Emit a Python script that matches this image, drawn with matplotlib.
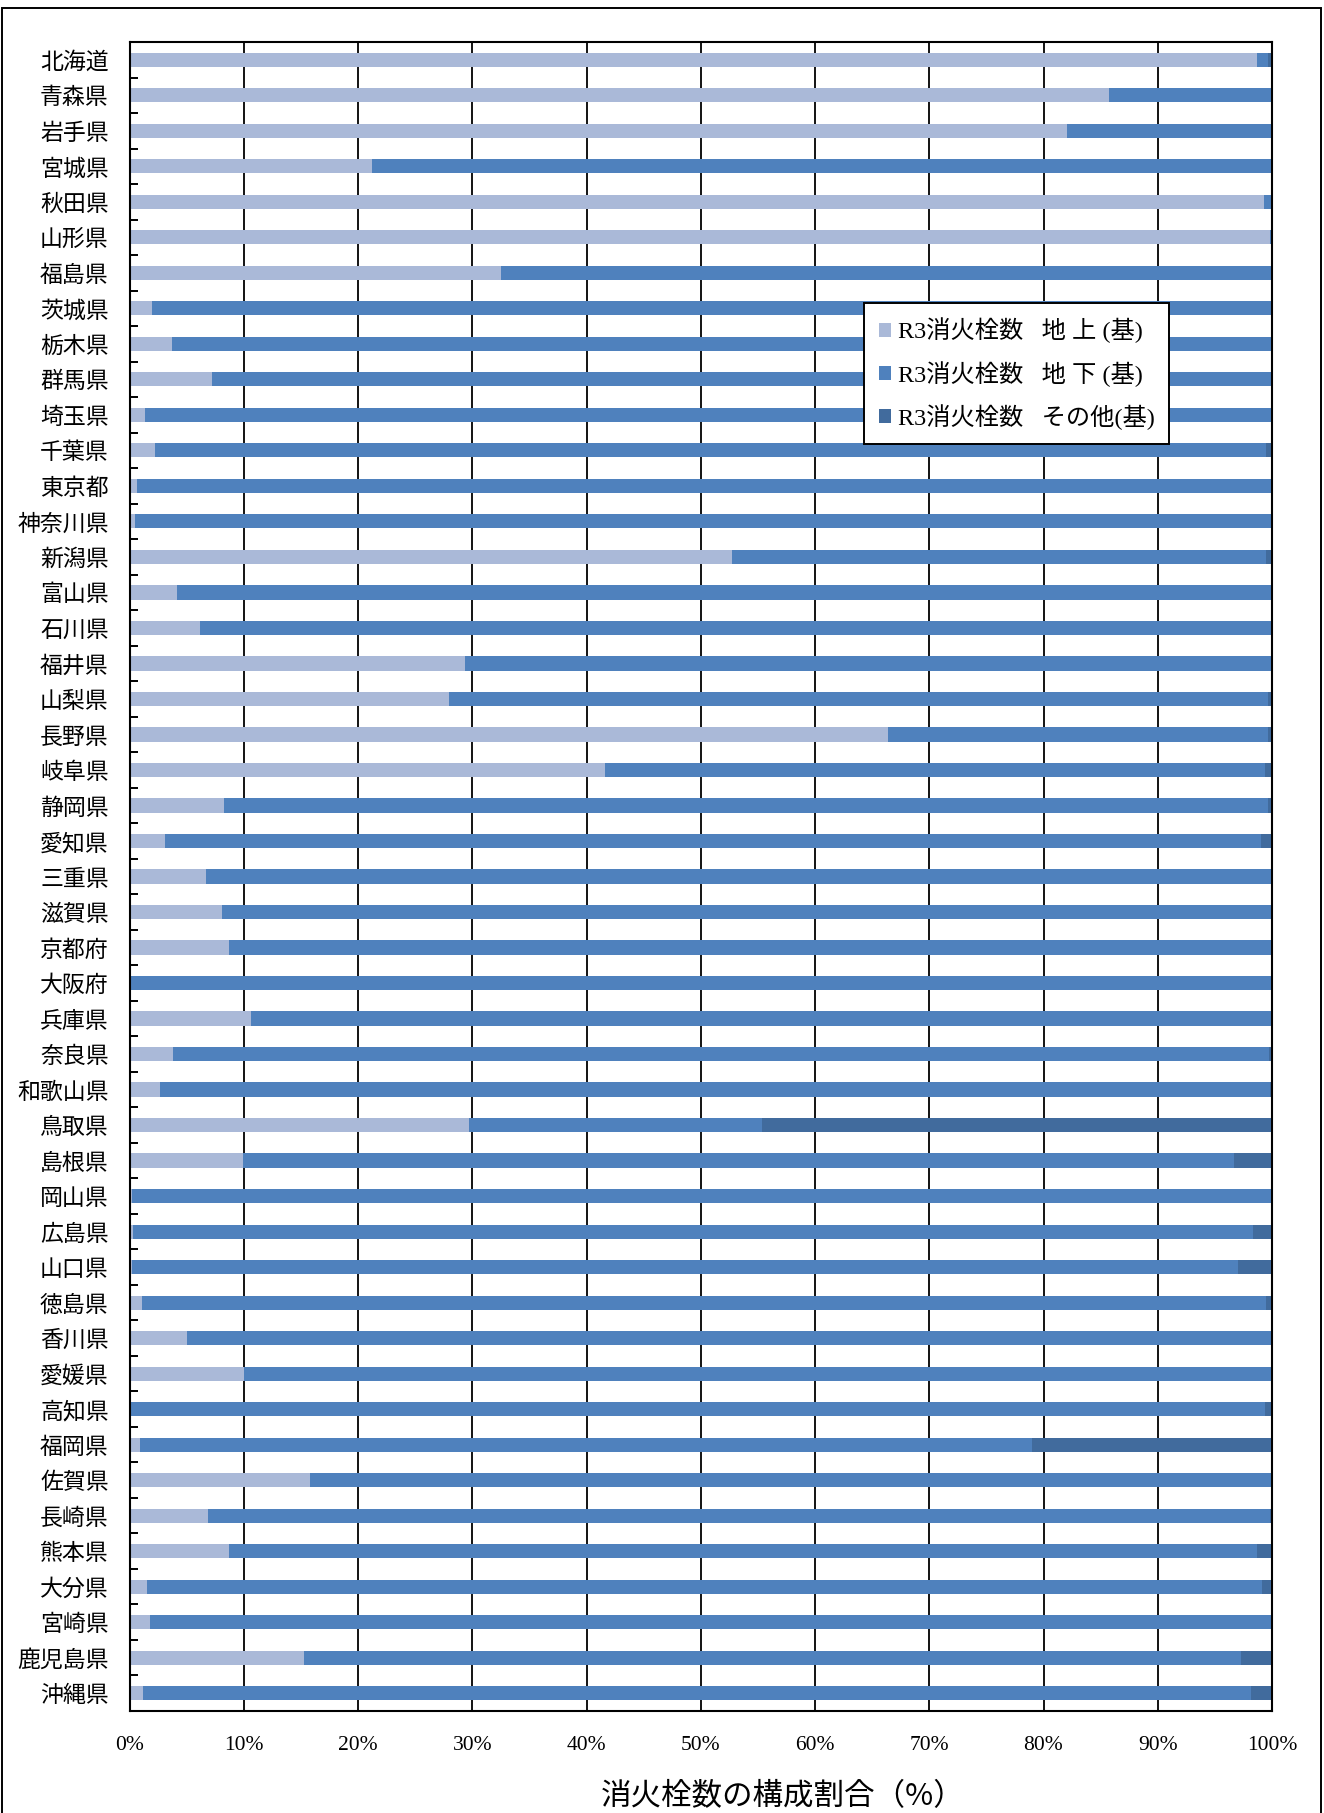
import matplotlib
matplotlib.use("Agg")
import matplotlib.pyplot as plt
from matplotlib.patches import Rectangle
from matplotlib.ticker import FixedLocator, NullFormatter
import numpy as np

plt.rcParams['font.family'] = ['Noto Sans CJK JP', 'DejaVu Sans']

# Prefectures, top to bottom
prefectures = [
    "北海道", "青森県", "岩手県", "宮城県", "秋田県", "山形県", "福島県",
    "茨城県", "栃木県", "群馬県", "埼玉県", "千葉県", "東京都", "神奈川県",
    "新潟県", "富山県", "石川県", "福井県", "山梨県", "長野県", "岐阜県",
    "静岡県", "愛知県", "三重県", "滋賀県", "京都府", "大阪府", "兵庫県",
    "奈良県", "和歌山県", "鳥取県", "島根県", "岡山県", "広島県", "山口県",
    "徳島県", "香川県", "愛媛県", "高知県", "福岡県", "佐賀県", "長崎県",
    "熊本県", "大分県", "宮崎県", "鹿児島県", "沖縄県",
]

# Share of hydrants (%) by type
above_ground = [
    98.7, 85.75, 82.1, 21.2, 99.3, 99.8, 32.5,
    2.0, 3.7, 7.2, 1.35, 2.2, 0.7, 0.5,
    52.7, 4.2, 6.2, 29.4, 28.0, 66.4, 41.6,
    8.3, 3.1, 6.7, 8.1, 8.7, 0.0, 10.6,
    3.8, 2.7, 29.7, 9.9, 0.25, 0.3, 0.25,
    1.1, 5.0, 10.0, 0.0, 0.9, 15.8, 6.9,
    8.7, 1.55, 1.8, 15.3, 1.2,
]
underground = [
    0.95, 14.25, 17.9, 78.8, 0.7, 0.2, 67.4,
    98.0, 96.3, 92.8, 98.65, 97.3, 99.3, 99.5,
    46.8, 95.8, 93.8, 70.6, 71.65, 33.25, 57.8,
    91.35, 95.9, 93.3, 91.8, 91.3, 100.0, 89.35,
    95.9, 97.15, 25.7, 86.8, 99.75, 98.0, 96.75,
    98.4, 95.0, 90.0, 99.4, 78.05, 84.2, 92.9,
    90.0, 97.55, 98.2, 81.95, 96.95,
]
other = [
    0.35, 0.0, 0.0, 0.0, 0.0, 0.0, 0.1,
    0.0, 0.0, 0.0, 0.0, 0.5, 0.0, 0.0,
    0.5, 0.0, 0.0, 0.0, 0.35, 0.35, 0.6,
    0.35, 1.0, 0.0, 0.1, 0.0, 0.0, 0.05,
    0.3, 0.15, 44.6, 3.3, 0.0, 1.7, 3.0,
    0.5, 0.0, 0.0, 0.6, 21.05, 0.0, 0.2,
    1.3, 0.9, 0.0, 2.75, 1.85,
]

series_labels = ["R3消火栓数   地 上 (基)", "R3消火栓数   地 下 (基)", "R3消火栓数   その他(基)"]
series_colors = ["#AAB9D8", "#4F81BD", "#416B9D"]
x_ticks = [0, 10, 20, 30, 40, 50, 60, 70, 80, 90, 100]
x_tick_labels = ["0%", "10%", "20%", "30%", "40%", "50%", "60%", "70%", "80%", "90%", "100%"]
x_title = "消火栓数の構成割合（%）"

W, H = 1324, 1813
fig = plt.figure(figsize=(W / 100, H / 100), dpi=100)
ax = fig.add_axes([129.5 / W, 1 - 1711 / H, (1272 - 129.5) / W, (1711 - 42) / H])

y = np.arange(len(prefectures))
left = np.zeros(len(prefectures))
for vals, lab, col in zip([above_ground, underground, other], series_labels, series_colors):
    v = np.array(vals)
    ax.barh(y, v, left=left, height=0.4, color=col, label=lab, linewidth=0, zorder=3)
    left = left + v

ax.set_xlim(0, 100)
ax.set_ylim(len(prefectures) - 0.5, -0.5)

# vertical gridlines
ax.xaxis.set_major_locator(FixedLocator(x_ticks))
ax.set_xticklabels(x_tick_labels, family=['Liberation Serif', 'Noto Sans CJK JP'], fontsize=15.5)
ax.grid(axis='x', color='black', linewidth=1.3, zorder=1)
ax.tick_params(axis='x', length=0, pad=18)

# category labels with small inward boundary ticks
ax.set_yticks(y)
ax.set_yticklabels(prefectures, fontsize=16.5)
ax.tick_params(axis='y', which='major', length=0, pad=15)
ax.yaxis.set_minor_locator(FixedLocator(np.arange(0.5, len(prefectures) - 1, 1.0)))
ax.yaxis.set_minor_formatter(NullFormatter())
ax.tick_params(axis='y', which='minor', direction='in', length=5.5, width=1.4, color='black')

for s in ax.spines.values():
    s.set_linewidth(1.5)
    s.set_color('black')
    s.set_zorder(4)

leg = ax.legend(
    loc='upper left', bbox_to_anchor=(864 / W, 1 - 303 / H), bbox_transform=fig.transFigure,
    borderaxespad=0, frameon=True, fancybox=False, shadow=False, framealpha=1,
    prop={'family': ['Liberation Serif', 'Noto Sans CJK JP'], 'size': 17.5},
    handlelength=0.5, handleheight=0.5, handletextpad=0.3,
    labelspacing=0.72, borderpad=0.6,
)
leg.get_frame().set_edgecolor('black')
leg.get_frame().set_linewidth(1.4)
leg.set_zorder(10)

fig.text(783 / W, 1 - 1797 / H, x_title, ha='center', va='center', fontsize=22)

# outer frame around the chart area
fig.patches.append(Rectangle((2 / W, -0.01), (1320.5 - 2) / W, 1.01 - 7.5 / H,
                             transform=fig.transFigure, fill=False,
                             edgecolor='black', linewidth=1.4))

fig.savefig("out.png", dpi=100)
